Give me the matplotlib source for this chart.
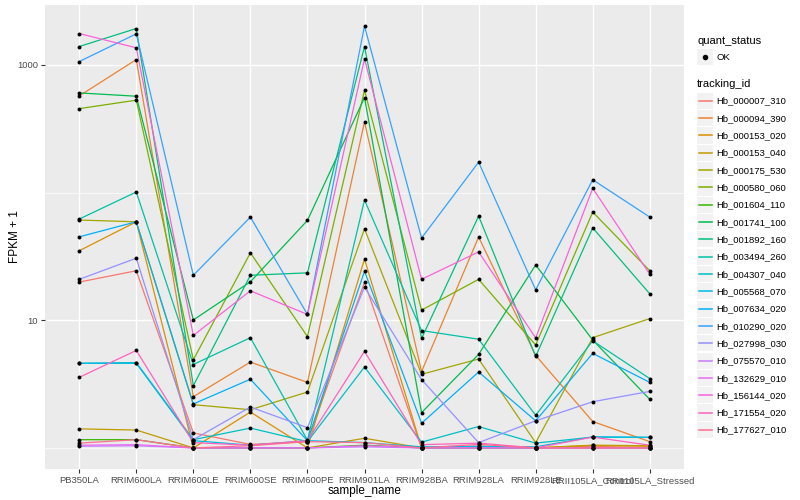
import numpy as np
import matplotlib
matplotlib.use("Agg")
import matplotlib.pyplot as plt
from matplotlib.lines import Line2D
from matplotlib.patches import Rectangle

plt.rcParams['font.family'] = ['Liberation Sans', 'DejaVu Sans']

samples = ["PB350LA", "RRIM600LA", "RRIM600LE", "RRIM600SE", "RRIM600PE",
           "RRIM901LA", "RRIM928BA", "RRIM928LA", "RRIM928LE",
           "RRII105LA_Control", "RRII105LA_Stressed"]

tracking_ids = ["Hb_000007_310", "Hb_000094_390", "Hb_000153_020", "Hb_000153_040",
                "Hb_000175_530", "Hb_000580_060", "Hb_001604_110", "Hb_001741_100",
                "Hb_001892_160", "Hb_003494_260", "Hb_004307_040", "Hb_005568_070",
                "Hb_007634_020", "Hb_010290_020", "Hb_027998_030", "Hb_075570_010",
                "Hb_132629_010", "Hb_156144_020", "Hb_171554_020", "Hb_177627_010"]

# ggplot default hue palette for 20 levels
colors = ["#F8766D", "#EA8331", "#D89000", "#C09B00", "#A3A500", "#7CAE00",
          "#39B600", "#00BB4E", "#00BF7D", "#00C1A3", "#00BFC4", "#00BAE0",
          "#00B0F6", "#35A2FF", "#9590FF", "#C77CFF", "#E76BF3", "#FA62DB",
          "#FF62BC", "#FF6C91"]

# FPKM + 1, one value per sample
hb_000007_310 = [19.9, 24.4, 1.31, 1.065, 1.12, 19.8, 1.0, 1.03, 1.0, 1.03, 1.0]
hb_000094_390 = [571, 1100, 2.52, 4.7, 3.26, 357, 3.96, 44.8, 5.3, 1.61, 1.12]
hb_000153_020 = [35.0, 59.0, 1.0, 1.91, 1.0, 30.1, 1.0, 1.0, 1.0, 1.046, 1.03]
hb_000153_040 = [1.41, 1.38, 1.0, 1.0, 1.0, 1.19, 1.0, 1.0, 1.0, 1.05, 1.04]
hb_000175_530 = [60.9, 59.0, 2.18, 1.99, 2.74, 52.0, 3.77, 4.97, 1.10, 7.3, 10.3]
hb_000580_060 = [454, 529, 4.9, 33.7, 7.45, 633, 12.0, 20.9, 6.4, 70.3, 24.4]
hb_001604_110 = [1.16, 1.16, 1.0, 1.0, 1.0, 1.05, 1.0, 1.0, 1.0, 1.0, 1.0]
hb_001741_100 = [603, 568, 10.05, 20.0, 60.5, 554, 1.89, 5.4, 27.1, 7.0, 2.40]
hb_001892_160 = [1392, 1926, 3.07, 22.5, 23.5, 1392, 7.2, 65.4, 5.2, 52.9, 16.1]
hb_003494_260 = [62.0, 101, 4.5, 7.3, 1.15, 87.3, 8.3, 7.1, 1.80, 6.9, 3.49]
hb_004307_040 = [4.6, 4.66, 1.16, 1.43, 1.12, 4.3, 1.11, 1.47, 1.09, 1.215, 1.21]
hb_005568_070 = [4.6, 4.6, 1.14, 1.05, 1.14, 1.1, 1.02, 1.03, 1.02, 1.22, 1.21]
hb_007634_020 = [45.0, 59.0, 2.21, 3.45, 1.14, 24.2, 1.56, 3.93, 1.63, 5.5, 3.26]
hb_010290_020 = [1061, 1750, 22.5, 64.2, 11.1, 2012, 44.0, 173, 17.3, 126, 64.2]
hb_027998_030 = [20.9, 30.6, 1.16, 2.09, 1.44, 18.2, 3.43, 1.10, 1.63, 2.30, 2.77]
hb_075570_010 = [1.03, 1.04, 1.0, 1.0, 1.0, 1.02, 1.0, 1.0, 1.0, 1.0, 1.0]
hb_132629_010 = [1.05, 1.06, 1.0, 1.0, 1.0, 1.04, 1.0, 1.0, 1.0, 1.0, 1.0]
hb_156144_020 = [1760, 1359, 7.6, 17.0, 11.1, 1115, 20.9, 34.3, 7.26, 108, 22.9]
hb_171554_020 = [3.57, 5.8, 1.1, 1.05, 1.14, 5.7, 1.06, 1.09, 1.0, 1.215, 1.05]
hb_177627_010 = [1.09, 1.16, 1.0, 1.04, 1.12, 1.1, 1.0, 1.065, 1.0, 1.0, 1.0]

values = [hb_000007_310, hb_000094_390, hb_000153_020, hb_000153_040, hb_000175_530,
          hb_000580_060, hb_001604_110, hb_001741_100, hb_001892_160, hb_003494_260,
          hb_004307_040, hb_005568_070, hb_007634_020, hb_010290_020, hb_027998_030,
          hb_075570_010, hb_132629_010, hb_156144_020, hb_171554_020, hb_177627_010]

W, H = 800, 500
fig = plt.figure(figsize=(8, 5), dpi=100)
ax = fig.add_axes([45 / W, 31 / H, 639 / W, 464 / H])
ax.set_facecolor("#EBEBEB")

x = np.arange(len(samples))
for vals, c in zip(values, colors):
    ax.plot(x, vals, color=c, lw=0.9, zorder=2, solid_capstyle="butt")
for vals in values:
    ax.scatter(x, vals, s=8, color="black", lw=0, zorder=3)

ax.set_yscale("log")
allv = np.concatenate([np.asarray(v, float) for v in values])
lo, hi = np.log10(allv.min()), np.log10(allv.max())
pad = 0.05 * (hi - lo)
ax.set_ylim(10 ** (lo - pad), 10 ** (hi + pad))
ax.set_xlim(-0.6, len(samples) - 0.4)

ax.set_yticks([10, 1000])
ax.set_yticklabels(["10", "1000"])
ax.set_yticks([1, 100], minor=True)
ax.set_yticklabels([], minor=True)
ax.set_xticks(x)
ax.set_xticklabels(samples)

ax.tick_params(axis="both", which="major", length=3, width=0.8, color="#333333",
               labelsize=6.8, labelcolor="#4D4D4D", pad=2)
ax.tick_params(axis="both", which="minor", length=0)

ax.grid(True, which="major", color="white", lw=1.0)
ax.grid(True, which="minor", axis="y", color="white", lw=0.5)
ax.set_axisbelow(True)
for s in ax.spines.values():
    s.set_visible(False)

ax.set_xlabel("sample_name", fontsize=8.5, labelpad=0)
ax.set_ylabel("FPKM + 1", fontsize=8.5, labelpad=-3)


# legends, drawn in figure pixel coordinates
def fx(px):
    return px / W


def fy(py):
    return 1 - py / H


fig.text(fx(697), fy(40.7), "quant_status", fontsize=8, va="center", ha="left")
fig.add_artist(Rectangle((fx(697), fy(65)), 16 / W, 16 / H, facecolor="#F2F2F2",
                         edgecolor="none", transform=fig.transFigure))
fig.add_artist(Line2D([fx(705)], [fy(57)], marker="o", ms=3, color="black",
                      lw=0, transform=fig.transFigure))
fig.text(fx(716.5), fy(57.3), "OK", fontsize=6.8, va="center", ha="left")

fig.text(fx(697), fy(84.3), "tracking_id", fontsize=8, va="center", ha="left")
for i, (tid, c) in enumerate(zip(tracking_ids, colors)):
    yc = 100.8 + i * 17.32
    fig.add_artist(Rectangle((fx(697), fy(yc + 8.1)), 16 / W, 16.2 / H,
                             facecolor="#F2F2F2", edgecolor="none",
                             transform=fig.transFigure))
    fig.add_artist(Line2D([fx(698.5), fx(711.5)], [fy(yc), fy(yc)], color=c,
                          lw=1.1, transform=fig.transFigure))
    fig.text(fx(716.5), fy(yc + 0.3), tid, fontsize=6.8, va="center", ha="left")

fig.savefig("out.png", dpi=100)
